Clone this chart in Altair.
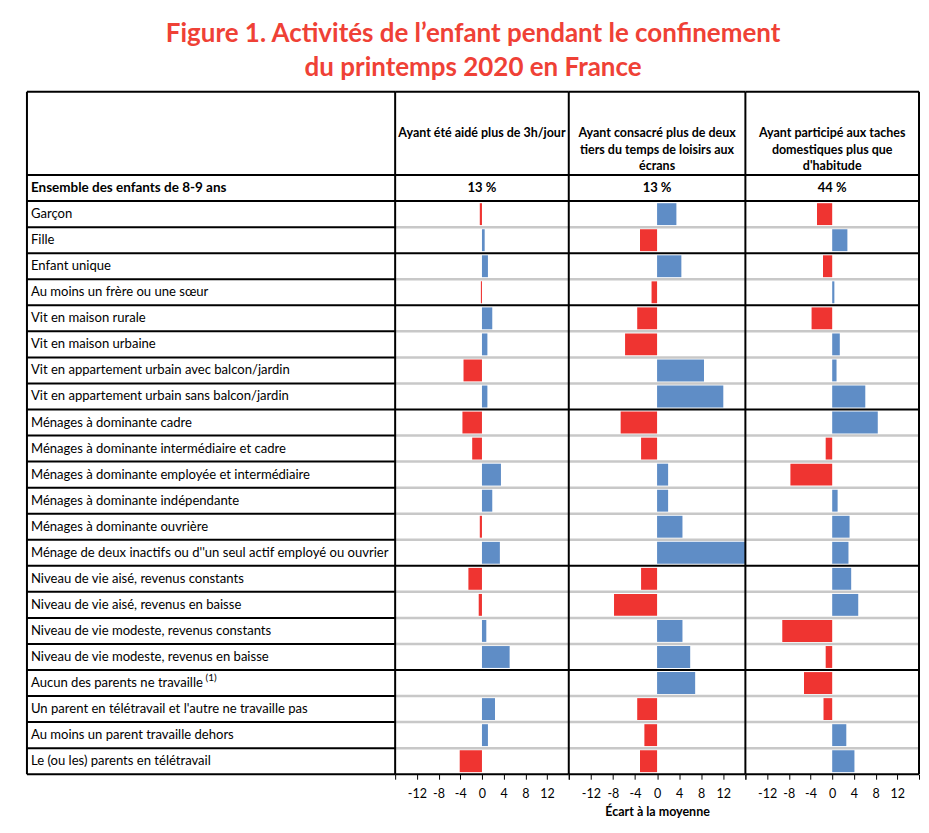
import altair as alt
import pandas as pd

# ---------------- data ----------------
labels = [
    "Garçon",
    "Fille",
    "Enfant unique",
    "Au moins un frère ou une sœur",
    "Vit en maison rurale",
    "Vit en maison urbaine",
    "Vit en appartement urbain avec balcon/jardin",
    "Vit en appartement urbain sans balcon/jardin",
    "Ménages à dominante cadre",
    "Ménages à dominante intermédiaire et cadre",
    "Ménages à dominante employée et intermédiaire",
    "Ménages à dominante indépendante",
    "Ménages à dominante ouvrière",
    "Ménage de deux inactifs ou d''un seul actif employé ou ouvrier",
    "Niveau de vie aisé, revenus constants",
    "Niveau de vie aisé, revenus en baisse",
    "Niveau de vie modeste, revenus constants",
    "Niveau de vie modeste, revenus en baisse",
    "Aucun des parents ne travaille",
    "Un parent en télétravail et l'autre ne travaille pas",
    "Au moins un parent travaille dehors",
    "Le (ou les) parents en télétravail",
]
note_row = 18
note_text = "(1)"
aide = [-0.4, 0.5, 1.1, -0.2, 1.9, 1.0, -3.4, 1.0, -3.6, -1.8, 3.5,
        1.9, -0.4, 3.3, -2.5, -0.6, 0.8, 5.1, 0.0, 2.4, 1.1, -4.1]
ecrans = [3.5, -3.1, 4.4, -1.0, -3.6, -5.8, 8.5, 12.0, -6.6, -2.9, 2.0,
          2.0, 4.6, 16.0, -2.9, -7.8, 4.6, 6.0, 6.9, -3.6, -2.3, -3.1]
taches = [-2.8, 2.8, -1.7, 0.4, -3.8, 1.4, 0.8, 6.1, 8.4, -1.2, -7.7,
          1.0, 3.2, 3.0, 3.5, 4.8, -9.2, -1.2, -5.2, -1.6, 2.6, 4.1]
headers = [
    "Ayant été aidé plus de 3h/jour",
    "Ayant consacré plus de deux\ntiers du temps de loisirs aux\nécrans",
    "Ayant participé aux taches\ndomestiques plus que\nd'habitude",
]
ensemble_label = "Ensemble des enfants de 8-9 ans"
ensemble_values = ["13 %", "13 %", "44 %"]
tick_values = [-16, -12, -8, -4, 0, 4, 8, 12, 16]
group_breaks = [2, 4, 8, 14, 18, 22]
title_lines = ["Figure 1. Activités de l’enfant pendant le confinement",
               "du printemps 2020 en France"]
axis_title = "Écart à la moyenne"

# ---------------- layout constants ----------------
N = len(labels)
TOP = -4.2
ROW_H = 26.1
H = round((N - TOP) * ROW_H)
FONT = "Lato"
RED = "#ef3431"
BLUE = "#5f8dc6"
GRAY = "#c8c8c8"
W0 = 369
WIDTHS = [174, 177, 174]
LABEL_SIZE = 13.1

yscale = alt.Scale(domain=[TOP, N], reverse=True, nice=False, zero=False)
Y = lambda f: alt.Y(f, type="quantitative", scale=yscale, axis=None)

rows_df = pd.DataFrame({"label": labels, "y": [i + 0.5 for i in range(N)]})
all_lines = pd.DataFrame({"pos": [TOP, -1, 0] + list(range(1, N + 1))})
black_lines = pd.DataFrame({"pos": [TOP, -1, 0] + group_breaks})
gray_lines = pd.DataFrame({"pos": [i for i in range(1, N) if i not in group_breaks]})

# ---------------- label column ----------------
lab_text = alt.Chart(rows_df).mark_text(
    align="left", baseline="middle", font=FONT, fontSize=LABEL_SIZE, color="black"
).encode(x=alt.value(4), y=Y("y"), text="label:N")
note = alt.Chart(pd.DataFrame({"t": [note_text], "y": [note_row + 0.5]})).mark_text(
    align="left", baseline="middle", dy=-5, font=FONT, fontSize=10, color="black"
).encode(x=alt.value(179), y=Y("y"), text="t:N")
ens_text = alt.Chart(pd.DataFrame({"t": [ensemble_label], "y": [-0.5]})).mark_text(
    align="left", baseline="middle", font=FONT, fontSize=13.5, fontWeight="bold", color="black"
).encode(x=alt.value(4), y=Y("y"), text="t:N")
lab_lines = alt.Chart(all_lines).mark_rule(color="black", strokeWidth=2).encode(
    y=Y("pos"), x=alt.value(0), x2=alt.value(W0)
)
left_border = alt.Chart(pd.DataFrame({"a": [0]})).mark_rule(color="black", strokeWidth=2).encode(
    x=alt.value(0), y=alt.value(0), y2=alt.value(H)
)
label_col = alt.layer(lab_lines, left_border, lab_text, note, ens_text).properties(width=W0, height=H)


# ---------------- bar panels ----------------
def panel(values, header, ens, width, show_title, last):
    xs = alt.Scale(domain=[-16, 16], nice=False, zero=False)
    df = pd.DataFrame({"val": values,
                       "y0": [i + 0.08 for i in range(N)],
                       "y1": [i + 0.92 for i in range(N)]})
    df = df[df["val"] != 0]
    axis = alt.Axis(
        values=tick_values,
        labelExpr="abs(datum.value) >= 16 ? '' : toString(datum.value)",
        labelOverlap=False, labelFlush=False, labelBound=False,
        domain=False, grid=False,
        ticks=True, tickSize=5, tickColor="black", tickWidth=1,
        labelFont=FONT, labelFontSize=12.5, labelColor="black", labelPadding=8,
        title=axis_title if show_title else None,
        titleFont=FONT, titleFontSize=12.5, titleFontWeight="bold", titleColor="black",
        titlePadding=6,
    )
    gl = alt.Chart(gray_lines).mark_rule(color=GRAY, strokeWidth=2.5).encode(
        y=Y("pos"), x=alt.value(0), x2=alt.value(width)
    )
    bars = alt.Chart(df).mark_bar().encode(
        x=alt.X("val:Q", scale=xs, axis=axis),
        x2=alt.X2Datum(0),
        y=Y("y0"), y2="y1:Q",
        color=alt.condition("datum.val < 0", alt.value(RED), alt.value(BLUE)),
    )
    bl = alt.Chart(black_lines).mark_rule(color="black", strokeWidth=2).encode(
        y=Y("pos"), x=alt.value(0), x2=alt.value(width)
    )
    vlines = [alt.Chart(pd.DataFrame({"a": [0]})).mark_rule(color="black", strokeWidth=2).encode(
        x=alt.value(0), y=alt.value(0), y2=alt.value(H))]
    if last:
        vlines.append(alt.Chart(pd.DataFrame({"a": [0]})).mark_rule(color="black", strokeWidth=2).encode(
            x=alt.value(width), y=alt.value(0), y2=alt.value(H)))
    head = alt.Chart(pd.DataFrame({"t": [header], "y": [(TOP - 1) / 2]})).mark_text(
        align="center", baseline="middle", lineBreak="\n", lineHeight=16.5,
        font=FONT, fontSize=12.5, fontWeight="bold", color="black"
    ).encode(x=alt.value(width / 2), y=Y("y"), text="t:N")
    ens_t = alt.Chart(pd.DataFrame({"t": [ens], "y": [-0.5]})).mark_text(
        align="center", baseline="middle", font=FONT, fontSize=13, fontWeight="bold", color="black"
    ).encode(x=alt.value(width / 2), y=Y("y"), text="t:N")
    return alt.layer(gl, bars, bl, *vlines, head, ens_t).properties(width=width, height=H)


p1 = panel(aide, headers[0], ensemble_values[0], WIDTHS[0], False, False)
p2 = panel(ecrans, headers[1], ensemble_values[1], WIDTHS[1], True, False)
p3 = panel(taches, headers[2], ensemble_values[2], WIDTHS[2], False, True)

chart = alt.hconcat(label_col, p1, p2, p3, spacing=0, bounds="flush").resolve_scale(
    x="independent", y="independent"
).properties(
    title=alt.TitleParams(
        text=title_lines, font=FONT, fontSize=26, fontWeight="bold", color="#ef4136",
        lineHeight=34, anchor="middle", offset=10,
    ),
    padding={"left": 18, "top": 12, "right": 0, "bottom": 0},
).configure_view(stroke=None)

chart.save("out.html", embed_options={"renderer": "svg", "actions": False})
